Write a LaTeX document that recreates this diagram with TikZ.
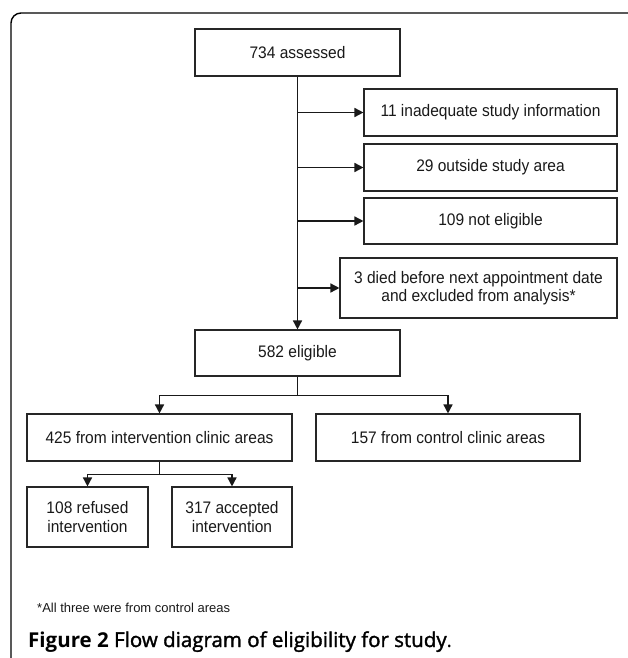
\documentclass[tikz,border=0pt]{standalone}
\usepackage{fontspec}
\setmainfont{Liberation Sans}
\newfontfamily\boxfont[FakeStretch=0.93]{Liberation Sans}
\newfontfamily\capfont{Open Sans}
\newfontfamily\capmed[FakeBold=1.6]{Open Sans}
\usetikzlibrary{arrows.meta}
\begin{document}
\begin{tikzpicture}[x=1pt,y=-1pt,
  box/.style={draw=black!85, line width=1.1pt, inner sep=0pt, align=center,
    font=\boxfont\fontsize{16.7}{18.5}\selectfont, text=black!90},
  conn/.style={line width=1.5pt, black!90},
  arr/.style={conn, -{Triangle[length=9pt,width=9pt]}},
  frame/.style={line width=1.4pt, black, rounded corners=10pt}]
\useasboundingbox (0,0) rectangle (628,658);
\draw[frame] (11,660) -- (11,13) -- (630,13);

\node[box, minimum width=205pt, minimum height=47pt] (a734) at (297.5,52.5) {734 assessed};
\node[box, minimum width=253pt, minimum height=47pt] (b11) at (490.5,112.5) {11 inadequate study information};
\node[box, minimum width=253pt, minimum height=47pt] (b29) at (490.5,167.5) {29 outside study area};
\node[box, minimum width=253pt, minimum height=46pt] (b109) at (490.5,221) {109 not eligible};
\node[box, minimum width=277pt, minimum height=60pt] (b3) at (478.5,288) {3 died before next appointment date\\and excluded from analysis*};
\node[box, minimum width=205pt, minimum height=46pt] (e582) at (297.5,353) {582 eligible};
\node[box, minimum width=265pt, minimum height=47pt] (i425) at (159.5,437.5) {425 from intervention clinic areas};
\node[box, minimum width=264pt, minimum height=47pt] (c157) at (448,437.5) {157 from control clinic areas};
\node[box, minimum width=121pt, minimum height=60pt] (r108) at (87.5,517) {108 refused\\intervention};
\node[box, minimum width=120pt, minimum height=60pt] (a317) at (232,517) {317 accepted\\intervention};

\draw[arr] (a734.south) -- (e582.north);
\draw[arr] (a734.south |- b11.west) -- (b11.west);
\draw[arr] (a734.south |- b29.west) -- (b29.west);
\draw[arr] (a734.south |- b109.west) -- (b109.west);
\draw[arr] (a734.south |- b3.west) -- (b3.west);

\draw[conn] (e582.south) -- ++(0,19) coordinate (j1);
\draw[arr] (j1) -| (i425.north);
\draw[arr] (j1) -| (c157.north);

\draw[conn] (i425.south) -- ++(0,13) coordinate (j2);
\draw[arr] (j2) -| (r108.north);
\draw[arr] (j2) -| (a317.north);

\node[anchor=base west, inner sep=0pt, font=\fontsize{13}{15}\selectfont, text=black!90] (fn) at (37,612) {*All three were from control areas};
\node[anchor=base west, inner sep=0pt, font=\capfont\fontsize{20.5}{24}\selectfont] (cap) at (28,647) {\bfseries Figure 2 {\capmed\mdseries Flow diagram of eligibility for study}{\mdseries .}};
\end{tikzpicture}
\end{document}
